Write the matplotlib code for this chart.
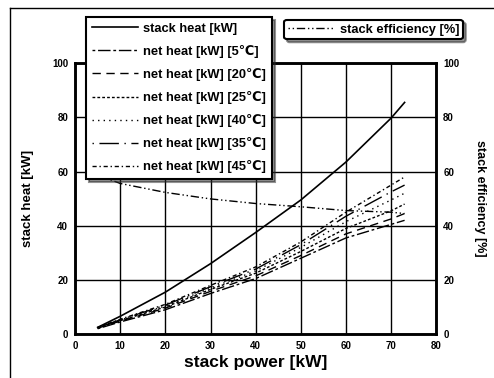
import numpy as np
import matplotlib.pyplot as plt
from matplotlib.lines import Line2D

plt.rcParams['font.family'] = ['Liberation Sans', 'DejaVu Sans']

# data
power = [5, 10, 20, 30, 40, 50, 60, 70, 73]
stack_heat = [2.5, 6.6, 15.5, 26.0, 37.5, 49.5, 63.5, 79.7, 85.5]

eff_power = [7, 10, 20, 30, 40, 50, 60, 70, 73]
stack_eff = [57.5, 55.6, 52.3, 49.9, 48.2, 47.0, 45.6, 45.0, 44.5]

net_5 = [2.0, 4.5, 9.0, 15.0, 20.5, 28.0, 35.5, 40.5, 42.0]
net_20 = [2.2, 4.8, 9.6, 15.8, 21.5, 29.0, 37.0, 42.5, 44.5]
net_25 = [2.3, 5.0, 10.0, 16.5, 22.5, 30.5, 39.0, 45.5, 48.0]
net_40 = [2.4, 5.2, 10.4, 17.0, 23.3, 32.0, 41.5, 49.5, 52.0]
net_35 = [2.4, 5.3, 10.7, 17.5, 24.0, 33.0, 43.5, 52.5, 55.0]
net_45 = [2.5, 5.5, 11.0, 18.0, 24.8, 34.0, 45.0, 55.0, 58.0]

x_ticks = [0, 10, 20, 30, 40, 50, 60, 70, 80]
y_ticks = [0, 20, 40, 60, 80, 100]

fig = plt.figure(figsize=(4.94, 3.78), dpi=100)
ax = fig.add_axes([0.152, 0.116, 0.731, 0.717])
ax2 = ax.twinx()

ax.plot(power, stack_heat, color='black', lw=1.2, label='stack heat [kW]')
ax.plot(power, net_5, color='black', lw=1.0, ls=(0, (2, 2, 9, 2)), label='net heat [kW] [5\u2103]')
ax.plot(power, net_20, color='black', lw=1.0, ls=(0, (6, 4)), label='net heat [kW] [20\u2103]')
ax.plot(power, net_25, color='black', lw=1.0, ls=(0, (2, 1.5)), label='net heat [kW] [25\u2103]')
ax.plot(power, net_40, color='black', lw=1.0, ls=(0, (1, 3)), label='net heat [kW] [40\u2103]')
ax.plot(power, net_35, color='black', lw=1.0, ls=(0, (1, 4, 14, 4)), label='net heat [kW] [35\u2103]')
ax.plot(power, net_45, color='black', lw=1.0, ls=(0, (3, 2, 1, 2)), label='net heat [kW] [45\u2103]')
ax2.plot(eff_power, stack_eff, color='black', lw=1.0, ls=(0, (1, 2, 1, 2, 6, 2)),
         label='stack efficiency [%]')

ax.set_xlim(0, 80)
ax.set_ylim(0, 100)
ax2.set_ylim(0, 100)
ax.set_xticks(x_ticks)
ax.set_yticks(y_ticks)
ax2.set_yticks(y_ticks)
ax.grid(True, color='black', lw=1.0)
for a in (ax, ax2):
    a.tick_params(length=0, labelsize=7, pad=5)
    for lab in a.get_xticklabels() + a.get_yticklabels():
        lab.set_fontweight('bold')
    for s in a.spines.values():
        s.set_linewidth(1.8)

ax.set_xlabel('stack power [kW]', fontsize=12.5, fontweight='bold', labelpad=3)
ax.set_ylabel('stack heat [kW]', fontsize=9.5, fontweight='bold', labelpad=13)
ax2.set_ylabel('stack efficiency [%]', fontsize=9, fontweight='bold', rotation=-90, labelpad=19)

leg_font = {'size': 9.3, 'weight': 'bold'}
h1, l1 = ax.get_legend_handles_labels()
leg1 = fig.legend(h1, l1, loc='upper left', bbox_to_anchor=(0.174, 0.955),
                  prop=leg_font, handlelength=3.6, handletextpad=0.4, labelspacing=0.78,
                  borderpad=0.45, borderaxespad=0, fancybox=False,
                  shadow={'color': '0.15'}, framealpha=1, edgecolor='black')
leg1.get_frame().set_linewidth(1.5)
h2, l2 = ax2.get_legend_handles_labels()
leg2 = fig.legend(h2, l2, loc='upper left', bbox_to_anchor=(0.575, 0.948),
                  prop=leg_font, handlelength=3.6, handletextpad=0.4, borderpad=0.3,
                  borderaxespad=0, fancybox=True, shadow={'color': '0.15'},
                  framealpha=1, edgecolor='black')
leg2.get_frame().set_linewidth(1.5)

# outer frame of the scanned figure
fig.add_artist(Line2D([0.02, 1.0], [0.98, 0.98], color='black', lw=1.0, transform=fig.transFigure))
fig.add_artist(Line2D([0.02, 0.02], [0.0, 0.98], color='black', lw=1.0, transform=fig.transFigure))

fig.savefig('out.png', dpi=100)
